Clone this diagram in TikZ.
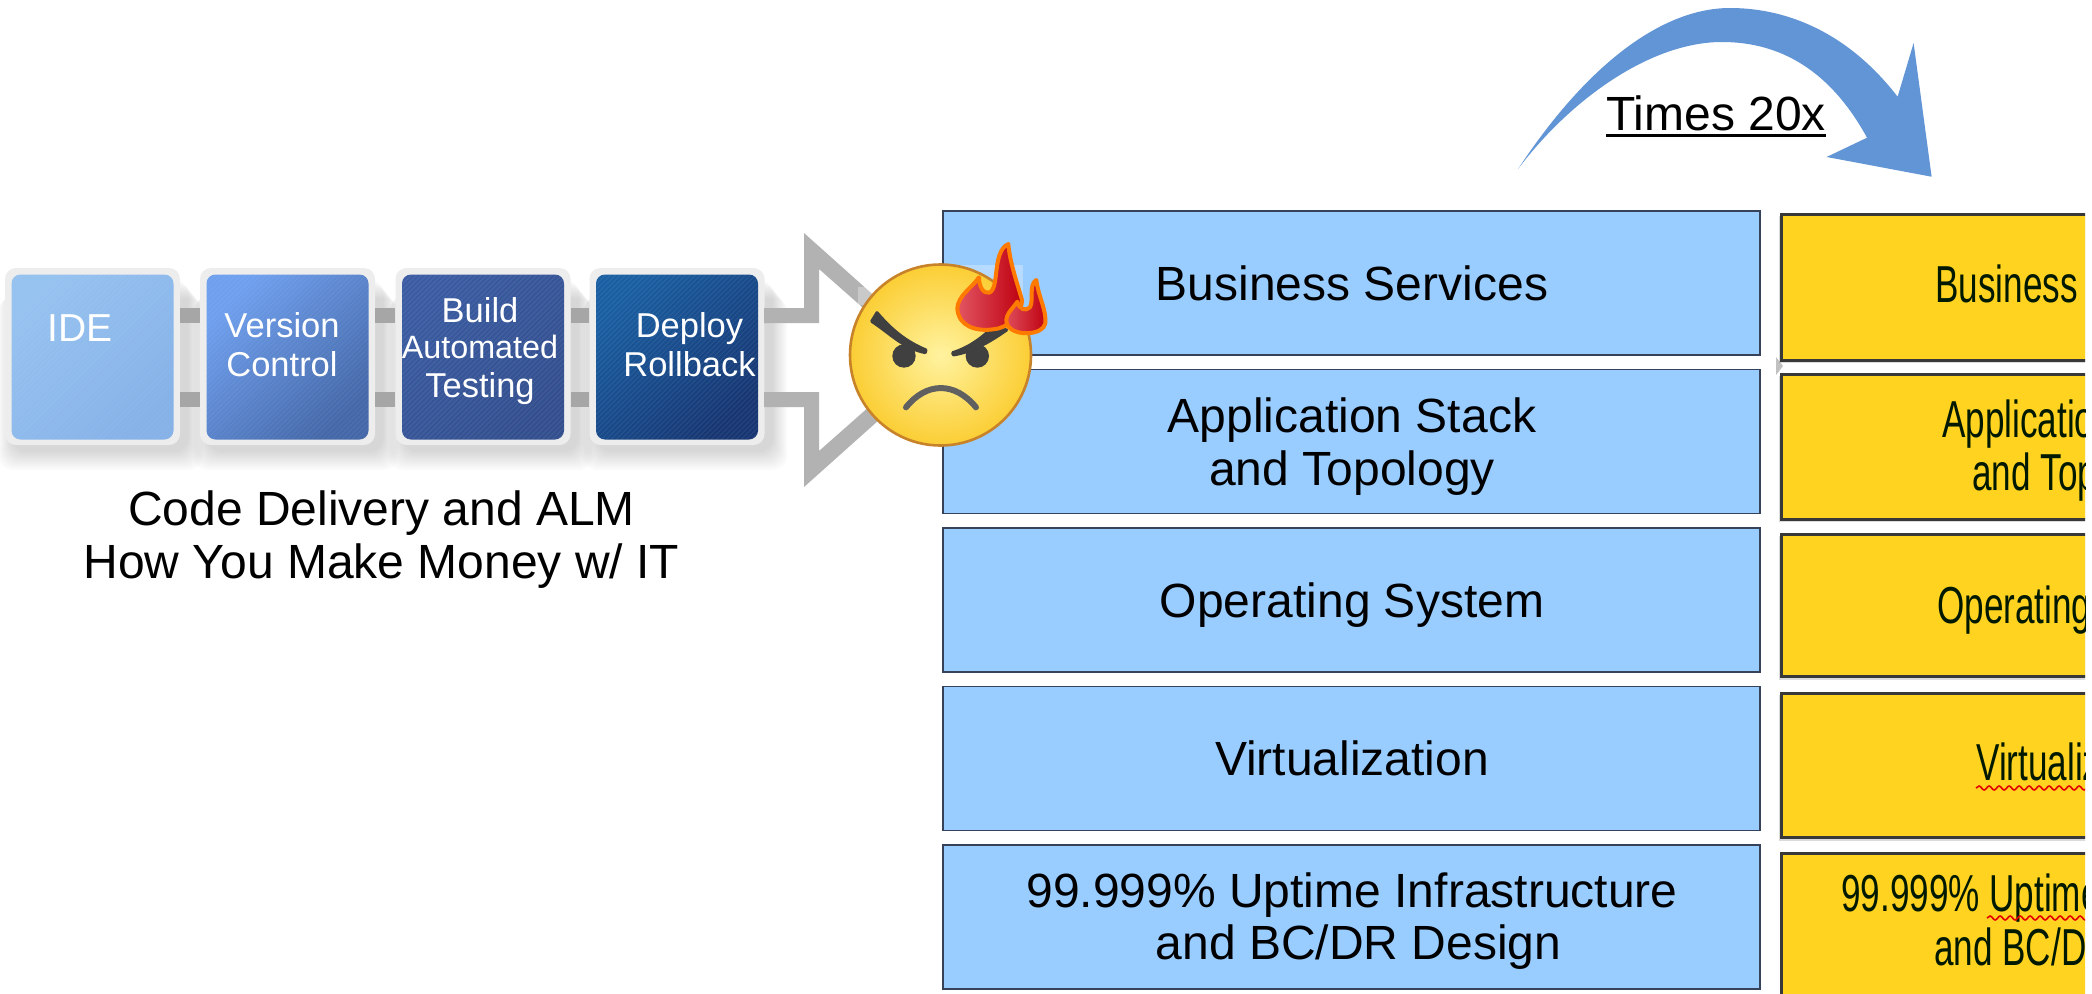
\documentclass[tikz,border=0pt]{standalone}
\usepackage{fontspec}
\setmainfont{Liberation Sans}
\usetikzlibrary{decorations.pathmorphing}
\definecolor{bluefill}{HTML}{99CCFF}
\definecolor{blueedge}{HTML}{35425A}
\definecolor{yellowfill}{HTML}{FFD320}
\definecolor{arrowblue}{HTML}{6295D6}
\definecolor{greyarrow}{HTML}{B2B2B2}
\definecolor{greybar}{HTML}{A6A6A6}
\definecolor{outerbox}{HTML}{EDEDED}
\definecolor{flameorange}{HTML}{FF7A00}
\definecolor{faceedge}{HTML}{C8832A}
\definecolor{facedark}{HTML}{404040}
\definecolor{oneA}{HTML}{96C2F0}\definecolor{oneB}{HTML}{86B2E8}
\definecolor{twoA}{HTML}{6FA0EE}\definecolor{twoB}{HTML}{4568A8}
\definecolor{threeA}{HTML}{3B5CA2}\definecolor{threeB}{HTML}{334F8E}
\definecolor{fourA}{HTML}{1A5FA2}\definecolor{fourB}{HTML}{173672}
\definecolor{flameA}{HTML}{E25562}\definecolor{flameB}{HTML}{BE0010}
\tikzset{
  bluebox/.style={draw=blueedge,line width=1.3pt,fill=bluefill,minimum width=817pt,minimum height=144pt,inner sep=0pt},
  bluetext/.style={inner sep=0pt,align=center,font=\fontsize{48}{52.5}\selectfont},
  yellowbox/.style={draw=black!78,line width=3pt,fill=yellowfill,minimum width=420pt,inner sep=0pt},
  yellowshadow/.style={fill=black,opacity=.14},
  yellowtext/.style={anchor=base west,inner sep=0pt,font=\fontsize{52}{52}\selectfont,text=black!90!green},
  outerstyle/.style={fill=outerbox,rounded corners=11pt,minimum width=175pt,minimum height=177pt,inner sep=0pt},
  innerstyle/.style={rounded corners=9pt,minimum width=162pt,minimum height=165pt,inner sep=0pt},
  boxtext/.style={text=white,inner sep=0pt,anchor=base,font=\fontsize{34.5}{39}\selectfont},
  barline/.style={line width=15pt,draw=greybar},
  caption/.style={inner sep=0pt,align=center,font=\fontsize{48}{53}\selectfont},
  squiggle/.style={draw=red!90!black,line width=1.6pt,decorate,decoration={snake,amplitude=2pt,segment length=10pt}},
  flame/.style={draw=flameorange,line width=4pt,line join=round,left color=flameA,right color=flameB},
}
\newcommand{\softshadow}[1]{%
  \foreach \i in {0,...,9}{%
    \fill[black,opacity=.016,rounded corners=14pt]
      (#1+8-88-1.6*\i,366+2*\i-86) rectangle (#1+8+88+1.6*\i,366+2*\i+86);}}
\newcommand{\hatch}[2]{%
  \begin{scope}
    \clip[rounded corners=9pt] (#1-81,274.5) rectangle (#1+81,439.5);
    \foreach \k in {-30,...,70}{%
      \draw[white,opacity=#2,line width=.7pt] (#1-81+\k*5-100,439.5) -- (#1-81+\k*5+65,274.5);}
  \end{scope}}
\begin{document}
\begin{tikzpicture}[x=1pt,y=-1pt]
\useasboundingbox (0,0) rectangle (2092,993);
\fill[white] (0,0) rectangle (2092,993);

% curved arrow
\fill[arrowblue] (1518,169) .. controls (1590,60) and (1665,8) .. (1730,8)
  .. controls (1790,8) and (1850,35) .. (1897.6,96.7)
  -- (1913.6,43) -- (1931.6,176.7) -- (1826.6,157) -- (1867,137.7)
  .. controls (1830,70) and (1780,42) .. (1722,42)
  .. controls (1650,42) and (1570,100) .. (1518,169) -- cycle;
\node[anchor=base,inner sep=0pt,font=\fontsize{48}{52}\selectfont] (times) at (1716,130) {Times 20x};
\draw[line width=3pt] ([yshift=-5pt]times.base west) -- ([yshift=-5pt]times.base east);

% left boxes
\softshadow{92.5}\softshadow{287.5}\softshadow{483}\softshadow{677}
\node[outerstyle] (o1) at (92.5,356.5) {};
\node[outerstyle] (o2) at (287.5,356.5) {};
\node[outerstyle] (o3) at (483,356.5) {};
\node[outerstyle] (o4) at (677,356.5) {};
\foreach \a/\b in {o1/o2,o2/o3,o3/o4}{
  \draw[barline] ([yshift=41pt]\a.east) -- ([yshift=41pt]\b.west);
  \draw[barline] ([yshift=-43pt]\a.east) -- ([yshift=-43pt]\b.west);
}
\node[innerstyle,left color=oneA,right color=oneB,shading angle=45] (b1) at (92.5,357) {};
\node[innerstyle,left color=twoA,right color=twoB,shading angle=45] (b2) at (287.5,357) {};
\node[innerstyle,left color=threeA,right color=threeB,shading angle=45] (b3) at (483,357) {};
\node[innerstyle,left color=fourA,right color=fourB,shading angle=45] (b4) at (677,357) {};
\hatch{92.5}{.05}\hatch{287.5}{.07}\hatch{483}{.09}\hatch{677}{.09}
\node[boxtext,font=\fontsize{39}{39}\selectfont] (t1) at (80,341) {IDE};
\node[boxtext] (t2a) at (282,337) {Version};
\node[boxtext] (t2b) at (282,376) {Control};
\node[boxtext] (t3a) at (480,322) {Build};
\node[boxtext,font=\fontsize{32.3}{36}\selectfont] (t3b) at (480,358) {Automated};
\node[boxtext] (t3c) at (480,397) {Testing};
\node[boxtext] (t4a) at (689.5,337) {Deploy};
\node[boxtext] (t4b) at (689.5,376) {Rollback};
\node[caption,anchor=center] (cap) at (381.5,540) {Code Delivery and ALM\\How You Make Money w/ IT};

% outline arrow
\fill[greyarrow,even odd rule]
  (764,308) -- (804,308) -- (804,233) -- (946,360) -- (804,487) -- (804,407) -- (764,407) -- cycle
  (764,323) -- (819,323) -- (819,269) -- (922,360) -- (819,451) -- (819,392) -- (764,392) -- cycle;

% blue stack
\node[bluebox] (s1) at (1351.5,283) {};
\node[bluebox] (s2) at (1351.5,441.5) {};
\node[bluebox] (s3) at (1351.5,600) {};
\node[bluebox] (s4) at (1351.5,758.5) {};
\node[bluebox] (s5) at (1351.5,917) {};
\node[bluetext] (st1) at (1352,283) {Business Services};
\node[bluetext] (st2) at (1352,446.5) {Application Stack\\and Topology};
\node[bluetext] (st3) at (1352,605) {Operating System};
\node[bluetext] (st4) at (1352,758.5) {Virtualization};
\node[bluetext] (st5) at (1352,921) {99.999\% Uptime Infrastructure\\\hspace*{13pt}and BC/DR Design};

% yellow stack, cut off at the right
\fill[greyarrow!80] (1776,357) -- (1783,366) -- (1776,375) -- cycle;
\begin{scope}
  \clip (1775,205) rectangle (2085,993);
  \fill[yellowshadow] (1779,216) rectangle (2100,363);
  \fill[yellowshadow] (1779,376) rectangle (2100,522);
  \fill[yellowshadow] (1779,536) rectangle (2100,680);
  \fill[yellowshadow] (1779,695) rectangle (2100,841);
  \node[yellowbox,anchor=north west,minimum height=145.5pt] (y1) at (1780,213) {};
  \node[yellowbox,anchor=north west,minimum height=144.5pt] (y2) at (1780,373) {};
  \node[yellowbox,anchor=north west,minimum height=142pt] (y3) at (1780,533) {};
  \node[yellowbox,anchor=north west,minimum height=143.5pt] (y4) at (1780,692) {};
  \node[yellowbox,anchor=north west,minimum height=200pt] (y5) at (1780,852) {};
  \node[yellowtext] (yt1) at (1935,302) {\scalebox{.675}[1]{Business}};
  \node[yellowtext] (yt2a) at (1942,437) {\scalebox{.675}[1]{Applicatio}};
  \node[yellowtext] (yt2b) at (1972,490) {\scalebox{.675}[1]{and Top}};
  \node[yellowtext] (yt3) at (1937,623) {\scalebox{.675}[1]{Operating}};
  \node[yellowtext] (yt4) at (1976,780) {\scalebox{.675}[1]{Virtualiz}};
  \node[yellowtext] (yt5a) at (1841,911) {\scalebox{.675}[1]{99.999\% Uptime}};
  \node[yellowtext] (yt5b) at (1934,965) {\scalebox{.675}[1]{and BC/D}};
  \coordinate (w1) at (1976,788); \coordinate (w2) at (2090,788);
  \coordinate (w3) at (1987,918); \coordinate (w4) at (2090,918);
  \draw[squiggle] (w1) -- (w2);
  \draw[squiggle] (w3) -- (w4);
\end{scope}

% translucent patches left around the flame picture
\fill[white,opacity=.3] (945,265) rectangle (1023,300);
\fill[white,opacity=.3] (858,287) rectangle (875,305);

% angry face
\shade[inner color={rgb,255:red,255;green,243;blue,160},outer color={rgb,255:red,251;green,206;blue,53}] (940.5,355) circle (90pt);
\draw[faceedge,line width=2.6pt] (940.5,355) circle (90.5pt);
\begin{scope}[shift={(780,220)},x=.3333pt,y=-.3333pt]
  \fill[facedark] (372,408) circle (11.7pt);
  \fill[facedark] (592,408) circle (11.7pt);
  \filldraw[facedark,line width=3pt,line join=round] (291,278) -- (275,304)
     .. controls (330,340) and (370,385) .. (436,398) -- (438,390)
     .. controls (380,365) and (340,335) .. (291,278) -- cycle;
  \filldraw[facedark,line width=3pt,line join=round] (518,398) -- (520,405)
     .. controls (580,395) and (630,365) .. (680,330) -- (640,320)
     .. controls (600,360) and (560,385) .. (518,398) -- cycle;
  \draw[gray!75!black,line width=6pt,line cap=round] (378,562) .. controls (440,485) and (525,485) .. (588,562);
  \draw[flame] (685,72) .. controls (690,130) and (712,190) .. (726,240)
     .. controls (725,290) and (680,325) .. (640,328)
     .. controls (590,335) and (535,320) .. (532,265)
     .. controls (535,225) and (575,205) .. (597,172)
     .. controls (597,200) and (610,222) .. (628,218)
     .. controls (660,205) and (635,95) .. (685,72) -- cycle;
  \draw[flame] (769,180) .. controls (775,230) and (800,270) .. (796,310)
     .. controls (790,345) and (710,350) .. (685,320)
     .. controls (665,290) and (700,265) .. (712,245)
     .. controls (718,268) and (735,275) .. (750,262)
     .. controls (762,240) and (745,195) .. (769,180) -- cycle;
\end{scope}
\end{tikzpicture}
\end{document}
